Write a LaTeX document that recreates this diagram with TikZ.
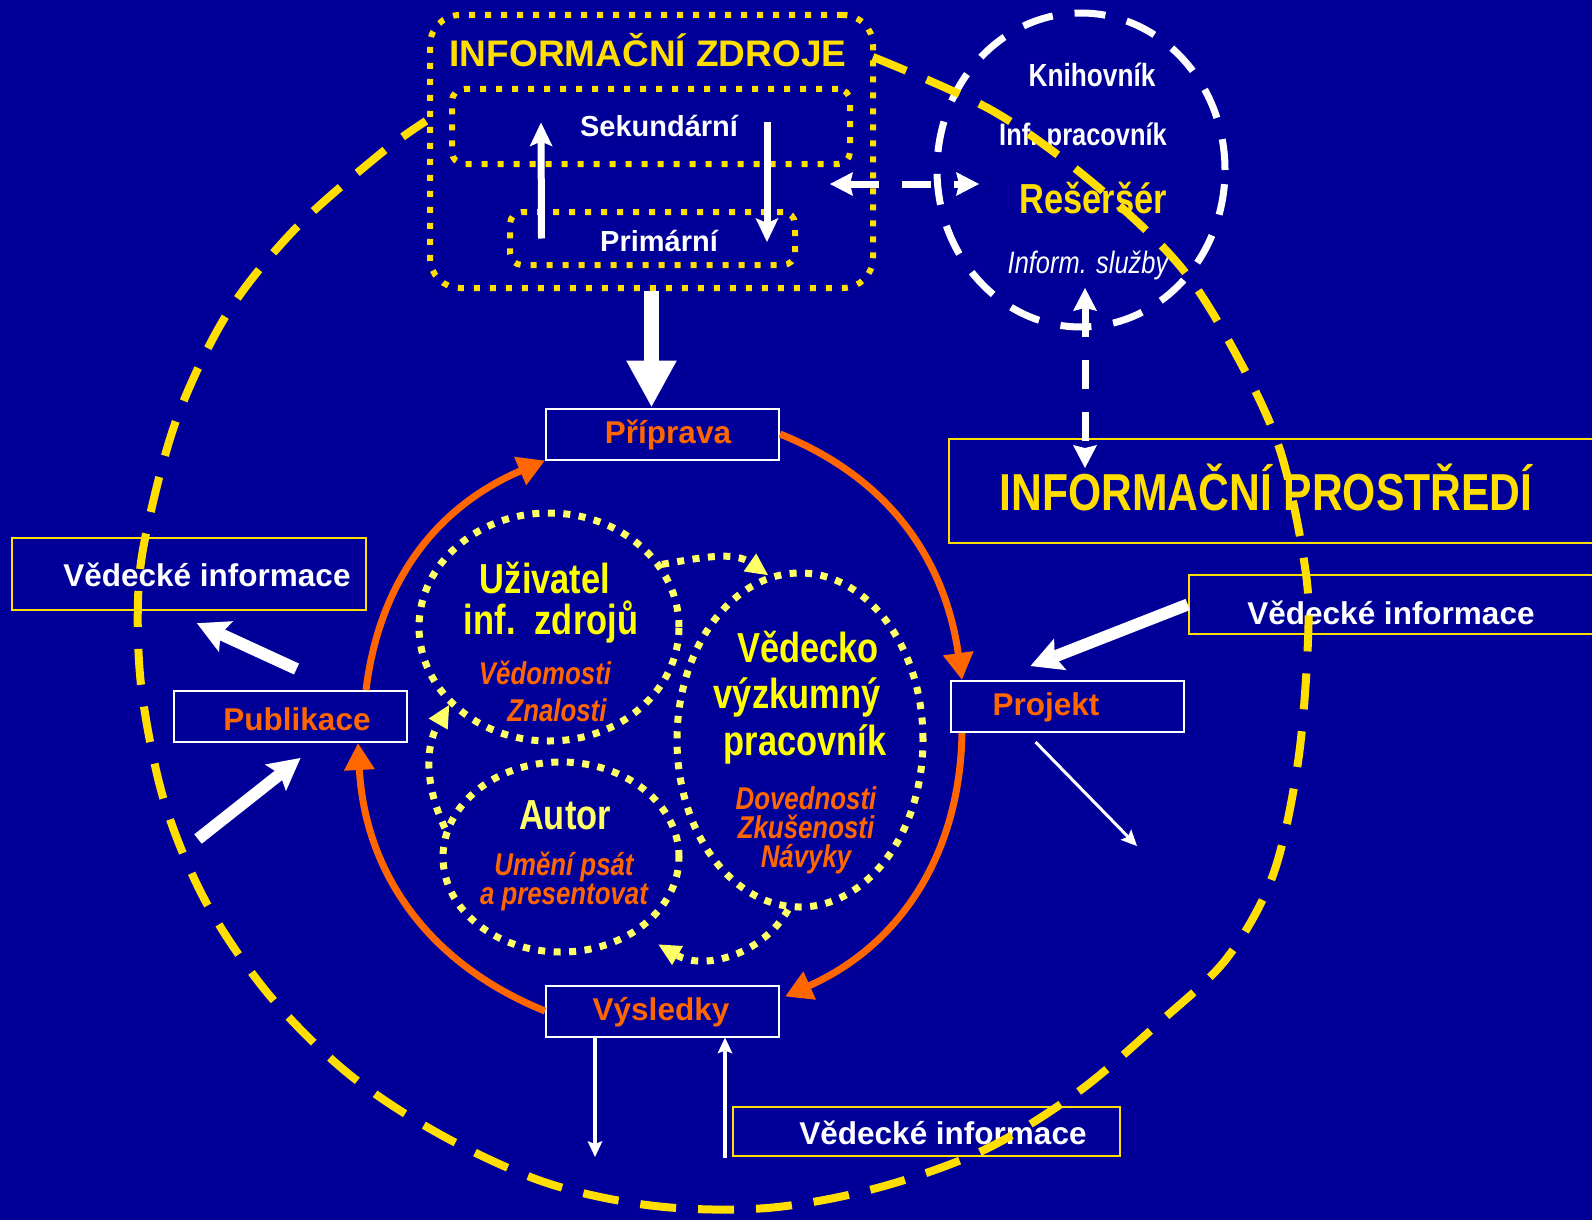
\documentclass[tikz,border=0pt]{standalone}
\usepackage{fontspec}
\setmainfont{Liberation Sans}
\newfontfamily\narrowfont[FakeStretch=0.82]{Liberation Sans}
\usetikzlibrary{shapes.geometric, arrows.meta, positioning}
\definecolor{slideBlue}{RGB}{0,0,153}
\definecolor{slideOrange}{RGB}{255,102,0}
\definecolor{slideGold}{RGB}{255,222,0}
\definecolor{slideYellow}{RGB}{255,255,0}
\definecolor{slidePale}{RGB}{255,255,102}
\newcommand{\pxsize}[1]{\fontsize{#1}{#1}\selectfont}

\begin{document}
\begin{tikzpicture}[
    x=1pt, y=1pt,
    stagebox/.style={rectangle, draw=white, line width=2pt, minimum width=233pt, minimum height=51pt, inner sep=0pt},
    infobox/.style={rectangle, draw=slideGold, line width=2.5pt, inner sep=0pt},
    stagetext/.style={text=slideOrange, font=\pxsize{31.5}\bfseries},
    infotext/.style={text=white, font=\pxsize{31.5}\bfseries},
    dotbox/.style={rectangle, draw=slideGold, line width=6pt, dash pattern=on 6pt off 10pt, inner sep=0pt},
    dotring/.style={ellipse, draw=slidePale, line width=7pt, dash pattern=on 7pt off 8.5pt, inner sep=0pt},
    dashring/.style={ellipse, draw=white, line width=7pt, dash pattern=on 31pt off 22pt, inner sep=0pt},
    ringtitle/.style={text=slideYellow, font=\narrowfont\pxsize{42}\bfseries},
    ringnote/.style={text=slideOrange, align=center, font=\narrowfont\fontsize{31.5}{29}\selectfont\bfseries\itshape},
    stageflow/.style={draw=slideOrange, line width=7pt, -{Triangle[length=27pt, width=29pt]}},
    fatarrow/.style={draw=white, line width=12pt, -{Stealth[length=32pt, width=34pt, inset=6pt, line width=0pt]}},
    thinarrow/.style={draw=white, line width=4pt, -{Stealth[length=16pt, width=15pt, inset=3pt, line width=0pt]}},
    innerarrow/.style={draw=white, line width=7pt, -{Stealth[length=24pt, width=23pt, inset=5pt, line width=0pt]}},
    linkarrow/.style={draw=white, line width=7pt, dash pattern=on 29pt off 23pt,
        arrows={Stealth[length=23pt, width=24pt, inset=3pt, line width=0pt]-Stealth[length=23pt, width=24pt, inset=3pt, line width=0pt]}},
    dotarrow/.style={draw=slidePale, line width=7pt, dash pattern=on 7pt off 8.5pt, -{Triangle[length=22pt, width=22pt, line width=0pt]}},
    loopline/.style={draw=slideGold, line width=8pt, dash pattern=on 36pt off 22pt}
]
% background
\useasboundingbox (0,0) rectangle (1592,-1220);
\clip (0,0) rectangle (1592,-1220);
\fill[slideBlue] (0,0) rectangle (1592,-1220);

% information sources
\node[dotbox, rounded corners=30pt, minimum width=443pt, minimum height=273pt] (zdroje) at (651.5,-151.5) {};
\node[text=slideGold, font=\pxsize{37}\bfseries] (zdrojetitle) at (648,-50) {INFORMAČNÍ ZDROJE};
\node[dotbox, rounded corners=12pt, minimum width=398pt, minimum height=75pt] (sekundarni) at (651,-126.5) {};
\node[infotext, font=\pxsize{29}\bfseries] (sekundarnitext) at (659,-126) {Sekundární};
\node[dotbox, rounded corners=12pt, minimum width=285pt, minimum height=53pt] (primarni) at (652.5,-238.5) {};
\node[infotext, font=\pxsize{29}\bfseries] (primarnitext) at (659,-241) {Primární};
\draw[innerarrow] ([xshift=-111pt]primarni.center) -- ([xshift=-110pt, yshift=4pt]sekundarni.center);
\draw[innerarrow] ([xshift=116pt, yshift=4pt]sekundarni.center) -- ([xshift=114.5pt, yshift=-3.5pt]primarni.center);

% searcher
\node[dashring, minimum width=288pt, minimum height=314pt] (reserse) at (1081,-170) {};
\node[text=white, font=\narrowfont\pxsize{32}\bfseries] (knihovnik) at (1092,-75) {Knihovník};
\node[text=white, font=\narrowfont\pxsize{31}\bfseries] (infprac) at (1083,-137) {Inf. pracovník};
\node[text=slideGold, font=\narrowfont\pxsize{42}\bfseries] (reserser) at (1093,-198) {Rešeršér};
\node[text=white, font=\narrowfont\pxsize{31}\itshape] (sluzby) at (1088,-265) {Inform. služby};

% environment
\node[infobox, minimum width=701pt, minimum height=104pt] (prostredi) at (1299.5,-491) {};
\node[text=slideGold, font=\narrowfont\pxsize{52}\bfseries] (prostreditext) at (1266,-487) {INFORMAČNÍ PROSTŘEDÍ};

\coordinate (linkleft) at (830,-184);
\coordinate (linkright) at (979,-184);
\coordinate (linktop) at (1085,-288);
\coordinate (linkbottom) at (1085,-468);
\draw[linkarrow] (linkleft) -- (linkright);
\draw[linkarrow] (linktop) -- (linkbottom);

% research cycle
\node[stagebox] (priprava) at (662.5,-434) {};
\node[stagetext] (pripravatext) at (668,-435) {Příprava};
\node[stagebox] (projekt) at (1067.5,-706.5) {};
\node[stagetext] (projekttext) at (1046,-707) {Projekt};
\node[stagebox] (vysledky) at (662.5,-1011) {};
\node[stagetext] (vysledkytext) at (661,-1012) {Výsledky};
\node[stagebox] (publikace) at (290.5,-716.5) {};
\node[stagetext] (publikacetext) at (297,-719) {Publikace};

\draw[fatarrow, line width=15pt, -{Triangle[length=47pt, width=47pt]}] (zdroje.south) -- (zdroje.south |- priprava.north);
\draw[stageflow] (priprava.east) to[out=-22, in=98] ([xshift=12pt]projekt.north west);
\draw[stageflow] ([xshift=12pt]projekt.south west) to[out=-91, in=24] ([xshift=5pt, yshift=-12pt]vysledky.north east);
\draw[stageflow] (vysledky.west) to[out=158, in=-87] ([xshift=-50pt]publikace.south east);
\draw[stageflow] ([xshift=-42pt]publikace.north east) to[out=83, in=-157] (priprava.south west);

% scientific information
\node[infobox, minimum width=354pt, minimum height=72pt] (vedleft) at (189,-574) {};
\node[infotext] (vedlefttext) at (207,-575) {Vědecké informace};
\node[infobox, minimum width=461pt, minimum height=59pt] (vedright) at (1419.5,-604.5) {};
\node[infotext] (vedrighttext) at (1391,-613) {Vědecké informace};
\node[infobox, minimum width=387pt, minimum height=49pt] (vedbottom) at (926.5,-1131.5) {};
\node[infotext] (vedbottomtext) at (943,-1133) {Vědecké informace};

\coordinate (pubsource) at (198,-839);
\coordinate (projsink) at (1137,-846);
\coordinate (vyssink) at (595,-1157);
\coordinate (vyssource) at (725,-1158);
\draw[fatarrow] ([xshift=6pt, yshift=21pt]publikace.north) -- ([xshift=8pt, yshift=-12pt]vedleft.south);
\draw[fatarrow] (pubsource) -- ([xshift=10pt, yshift=-15pt]publikace.south);
\draw[fatarrow] (vedright.west) -- ([xshift=-37pt, yshift=14pt]projekt.north);
\draw[thinarrow, line width=3pt] ([xshift=-32pt, yshift=-9pt]projekt.south) -- (projsink);
\draw[thinarrow] ([xshift=-67.5pt]vysledky.south) -- (vyssink);
\draw[thinarrow] (vyssource) -- ([xshift=62.5pt]vysledky.south);

% roles of the researcher
\node[dotring, minimum width=260pt, minimum height=228pt] (uzivatel) at (549,-627) {};
\node[dotring, minimum width=246pt, minimum height=334pt] (vedecko) at (800,-740) {};
\node[dotring, minimum width=236pt, minimum height=190pt] (autor) at (561,-857) {};

\node[ringtitle] (uziv1) at (545,-578) {Uživatel};
\node[ringtitle] (uziv2) at (551,-622) {inf.\ \ zdrojů};
\node[ringnote] (uziv3) at (545,-673) {Vědomosti};
\node[ringnote] (uziv4) at (557,-710) {Znalosti};
\node[ringtitle] (ved1) at (808,-647) {Vědecko};
\node[ringtitle] (ved2) at (797,-697) {výzkumný};
\node[ringtitle] (ved3) at (805,-744) {pracovník};
\node[ringnote] (ved4) at (806,-830) {Dovednosti\\Zkušenosti\\Návyky};
\node[ringtitle, text=slidePale] (aut1) at (565,-815) {Autor};
\node[ringnote] (aut2) at (564,-881) {Umění psát\\a presentovat};

\draw[dotarrow] (uzivatel.29) to[out=10, in=145] (vedecko.101);
\draw[dotarrow] (vedecko.-94) to[out=-120, in=-30] ([shift={(21pt,-11pt)}]autor.-45);
\draw[dotarrow] (autor.166) to[out=115, in=-120] (uzivatel.-142);

% outer environment loop
\draw[loopline] plot[smooth, tension=0.55] coordinates {
    (873,-57) (993,-111) (1093,-183) (1180,-266) (1237,-356) (1280,-450) (1305,-567) (1308,-640)
    (1298,-762) (1273,-875) (1227,-958) (1160,-1022) (1078,-1092) (984,-1150) (877,-1188) (767,-1208)
    (655,-1206) (547,-1183) (443,-1136) (350,-1075) (270,-996) (207,-904) (165,-804) (142,-693)
    (138,-600) (147,-529) (177,-418) (227,-314) (295,-229) (380,-154) (426,-121)};
\end{tikzpicture}
\end{document}
